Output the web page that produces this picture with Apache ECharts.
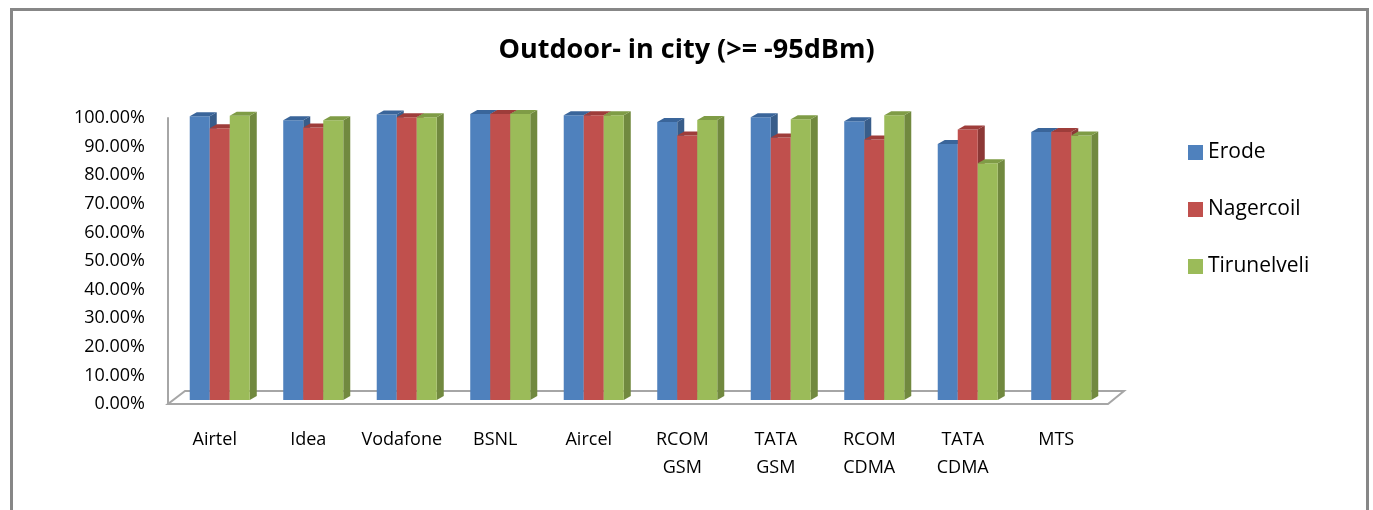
<!DOCTYPE html>
<html>
<head>
<meta charset="utf-8">
<script src="https://cdn.jsdelivr.net/npm/echarts@6/dist/echarts.min.js"></script>
<style>
  html, body { margin: 0; padding: 0; background: #fff; }
  #chart { width: 1373px; height: 510px; }
</style>
</head>
<body>
<div id="chart"></div>
<script>
const categories = ['Airtel', 'Idea', 'Vodafone', 'BSNL', 'Aircel', 'RCOM\nGSM', 'TATA\nGSM', 'RCOM\nCDMA', 'TATA\nCDMA', 'MTS']
const cities = ['Erode', 'Nagercoil', 'Tirunelveli']
const erode = [0.992, 0.978, 0.998, 1.0, 0.996, 0.972, 0.989, 0.975, 0.895, 0.937]
const nagercoil = [0.950, 0.953, 0.989, 1.0, 0.996, 0.925, 0.918, 0.911, 0.946, 0.937]
const tirunelveli = [0.994, 0.978, 0.989, 1.0, 0.996, 0.979, 0.982, 0.996, 0.828, 0.925]
const yTicks = { min: 0, max: 1, interval: 0.1 }

const colors = [
  { front: '#4F81BD', side: '#385D8A', top: '#3A659A' },
  { front: '#C0504D', side: '#8C3836', top: '#9E3D3A' },
  { front: '#9BBB59', side: '#71893F', top: '#7F9C46' }
]
const font = '"Open Sans", sans-serif'
const DX = 7, DY = 4, SHIFT_X = 5, SHIFT_Y = -4

// 3D-looking column: side face, front face, top face
function barRenderer(s) {
  return function (params, api) {
    const idx = api.value(0)
    const val = api.value(1)
    const p = api.coord([idx, val])
    const p0 = api.coord([idx, 0])
    const bw = api.size([1, 0])[0]
    const barW = bw * 0.214
    const x = p[0] - 1.5 * barW + s * barW + SHIFT_X
    const top = p[1] + SHIFT_Y
    const bot = p0[1] + SHIFT_Y
    const c = colors[s]
    return {
      type: 'group',
      children: [
        { type: 'polygon', shape: { points: [[x + barW, top], [x + barW + DX, top - DY], [x + barW + DX, bot - DY], [x + barW, bot]] }, style: { fill: c.side } },
        { type: 'rect', shape: { x: x, y: top, width: barW, height: bot - top }, style: { fill: c.front } },
        { type: 'polygon', shape: { points: [[x, top], [x + DX, top - DY], [x + barW + DX, top - DY], [x + barW, top]] }, style: { fill: c.top } }
      ]
    }
  }
}

function floorRenderer(params, api) {
  const bw = api.size([1, 0])[0]
  const a = api.coord([0, 0])
  const b = api.coord([categories.length - 1, 0])
  const l = a[0] - bw / 2
  const r = b[0] + bw / 2 + 5
  const y = a[1]
  return {
    type: 'polygon',
    shape: { points: [[l, y], [r, y], [r + 16, y - 13], [l + 17, y - 13]] },
    style: { fill: 'none', stroke: '#A6A6A6', lineWidth: 2 }
  }
}

const seriesData = [erode, nagercoil, tirunelveli]

const chart = echarts.init(document.getElementById('chart'))
chart.setOption({
  animation: false,
  backgroundColor: '#fff',
  graphic: [{
    type: 'rect', left: 9, top: 7, shape: { width: 1356, height: 520 },
    style: { fill: 'none', stroke: '#878787', lineWidth: 3 }, silent: true
  }],
  title: {
    text: 'Outdoor- in city (>= -95dBm)',
    left: 'center',
    top: 32,
    textStyle: { fontFamily: font, fontSize: 27, fontWeight: 'bold', color: '#000' }
  },
  legend: {
    data: cities,
    orient: 'vertical',
    left: 1183,
    top: 137,
    itemWidth: 15,
    itemHeight: 15,
    itemGap: 36,
    icon: 'rect',
    textStyle: { fontFamily: font, fontSize: 21, color: '#000' }
  },
  grid: { left: 168, right: 270, top: 118, bottom: 106 },
  xAxis: {
    type: 'category',
    data: categories,
    axisLine: { show: false },
    axisTick: { show: false },
    axisLabel: { fontFamily: font, fontSize: 18, color: '#000', margin: 22, lineHeight: 28, interval: 0 }
  },
  yAxis: {
    type: 'value',
    min: yTicks.min,
    max: yTicks.max,
    interval: yTicks.interval,
    splitLine: { show: false },
    axisLine: { show: true, lineStyle: { color: '#A6A6A6', width: 2 } },
    axisTick: { show: false },
    axisLabel: {
      fontFamily: font, fontSize: 18, color: '#000', margin: 23, padding: [10, 0, 0, 0],
      formatter: v => (v * 100).toFixed(2) + '%'
    }
  },
  series: [
    { type: 'custom', name: 'floor', renderItem: floorRenderer, data: [[0, 0]], z: 1, silent: true, itemStyle: { color: '#A6A6A6' } }
  ].concat(cities.map((name, s) => ({
    type: 'custom',
    name: name,
    renderItem: barRenderer(s),
    encode: { x: 0, y: 1 },
    itemStyle: { color: colors[s].front },
    data: seriesData[s].map((v, i) => [i, v]),
    z: 2 + s
  })))
})
</script>
</body>
</html>
